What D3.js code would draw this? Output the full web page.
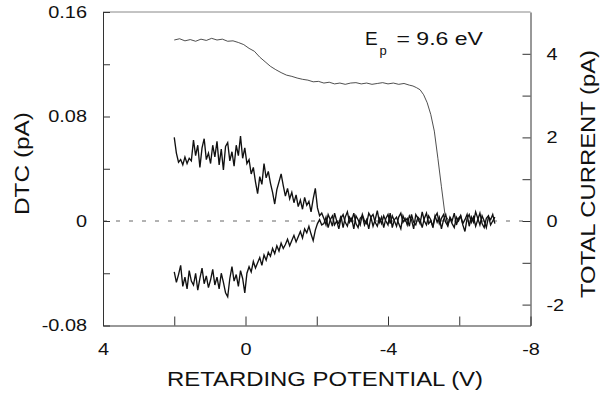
<!DOCTYPE html>
<html>
<head>
<meta charset="utf-8">
<script src="https://cdn.jsdelivr.net/npm/d3@7"></script>
<style>
  body { margin: 0; background: #fff; }
  text { font-family: "Liberation Sans", Arial, sans-serif; fill: #111; }
  .axis path, .axis line { stroke: #333; stroke-width: 1; }
</style>
</head>
<body>
<div id="chart"></div>
<script>
// retarding potential grid (V) of the two DTC traces
var dtcV = [
  2.00, 1.94, 1.88, 1.82, 1.76, 1.70, 1.64, 1.58, 1.52, 1.46,
  1.40, 1.34, 1.28, 1.22, 1.16, 1.10, 1.04, 0.98, 0.92, 0.86,
  0.80, 0.74, 0.68, 0.62, 0.56, 0.50, 0.44, 0.38, 0.32, 0.26,
  0.20, 0.14, 0.08, 0.02, -0.04, -0.10, -0.16, -0.22, -0.28, -0.34,
  -0.40, -0.46, -0.52, -0.58, -0.64, -0.70, -0.76, -0.82, -0.88, -0.94,
  -1.00, -1.06, -1.12, -1.18, -1.24, -1.30, -1.36, -1.42, -1.48, -1.54,
  -1.60, -1.66, -1.72, -1.78, -1.84, -1.90, -1.96, -2.02, -2.08, -2.14,
  -2.20, -2.26, -2.32, -2.38, -2.44, -2.50, -2.56, -2.62, -2.68, -2.74,
  -2.80, -2.86, -2.92, -2.98, -3.04, -3.10, -3.16, -3.22, -3.28, -3.34,
  -3.40, -3.46, -3.52, -3.58, -3.64, -3.70, -3.76, -3.82, -3.88, -3.94,
  -4.00, -4.06, -4.12, -4.18, -4.24, -4.30, -4.36, -4.42, -4.48, -4.54,
  -4.60, -4.66, -4.72, -4.78, -4.84, -4.90, -4.96, -5.02, -5.08, -5.14,
  -5.20, -5.26, -5.32, -5.38, -5.44, -5.50, -5.56, -5.62, -5.68, -5.74,
  -5.80, -5.86, -5.92, -5.98, -6.04, -6.10, -6.16, -6.22, -6.28, -6.34,
  -6.40, -6.46, -6.52, -6.58, -6.64, -6.70, -6.76, -6.82, -6.88, -6.94,
  -7.00
];

// upper DTC trace (pA)
var dtcUpper = [
  0.064, 0.052, 0.045, 0.047, 0.043, 0.049, 0.044, 0.048, 0.046, 0.062,
  0.050, 0.058, 0.041, 0.056, 0.063, 0.047, 0.052, 0.044, 0.058, 0.049,
  0.061, 0.043, 0.055, 0.039, 0.057, 0.060, 0.046, 0.053, 0.042, 0.058,
  0.050, 0.065, 0.048, 0.056, 0.044, 0.047, 0.036, 0.041, 0.030, 0.021,
  0.034, 0.028, 0.044, 0.033, 0.038, 0.029, 0.022, 0.013, 0.024, 0.030,
  0.036, 0.027, 0.019, 0.025, 0.017, 0.022, 0.014, 0.020, 0.011, 0.016,
  0.009, 0.018, 0.012, 0.015, 0.007, 0.017, 0.025, 0.010, 0.004, 0.006,
  0.002, -0.003, 0.005, 0.001, -0.004, 0.006, 0.000, -0.002, 0.004, -0.005,
  0.003, 0.007, -0.001, 0.002, -0.006, 0.004, 0.001, -0.003, 0.005, 0.000,
  -0.002, 0.006, 0.003, -0.004, 0.001, 0.008, -0.001, 0.003, -0.005, 0.002,
  0.005, -0.002, 0.004, 0.000, -0.004, 0.003, 0.006, -0.001, 0.002, -0.003,
  0.004, 0.001, -0.006, 0.005, 0.002, -0.002, 0.007, 0.000, -0.003, 0.004,
  0.001, -0.005, 0.003, 0.006, -0.002, 0.002, 0.005, -0.001, -0.004, 0.003,
  0.000, 0.006, -0.003, 0.002, 0.004, -0.002, 0.001, 0.005, -0.004, 0.003,
  -0.001, 0.007, 0.002, -0.003, 0.004, 0.000, -0.005, 0.003, 0.001, 0.005,
  -0.002
];

// lower DTC trace (pA)
var dtcLower = [
  -0.039, -0.047, -0.041, -0.034, -0.050, -0.043, -0.052, -0.038, -0.046, -0.049,
  -0.040, -0.053, -0.044, -0.036, -0.048, -0.042, -0.051, -0.045, -0.037, -0.049,
  -0.043, -0.052, -0.040, -0.047, -0.055, -0.058, -0.044, -0.035, -0.046, -0.041,
  -0.050, -0.038, -0.044, -0.055, -0.040, -0.035, -0.039, -0.031, -0.036, -0.032,
  -0.028, -0.034, -0.026, -0.030, -0.024, -0.027, -0.021, -0.025, -0.019, -0.023,
  -0.017, -0.021, -0.018, -0.014, -0.019, -0.015, -0.011, -0.016, -0.012, -0.008,
  -0.013, -0.006, -0.009, -0.004, -0.010, -0.015, -0.007, -0.002, 0.001, -0.003,
  -0.002, 0.003, -0.005, 0.001, 0.004, -0.003, 0.000, -0.006, 0.002, 0.005,
  -0.001, -0.004, 0.003, 0.000, 0.006, -0.002, -0.005, 0.002, 0.004, -0.003,
  0.001, -0.006, 0.003, 0.005, -0.001, -0.004, 0.002, -0.002, 0.004, 0.000,
  -0.003, 0.006, -0.005, 0.001, 0.003, -0.002, -0.006, 0.004, 0.000, 0.002,
  -0.004, 0.005, -0.001, -0.003, 0.003, 0.001, -0.005, 0.002, 0.006, -0.002,
  0.000, -0.004, 0.004, -0.001, 0.003, -0.006, 0.001, 0.005, -0.003, 0.002,
  -0.002, -0.005, 0.003, 0.000, 0.004, -0.003, -0.008, 0.002, 0.005, -0.001,
  0.003, -0.004, 0.001, 0.006, -0.002, -0.005, 0.002, 0.004, -0.003, 0.000,
  0.003
];

// total current trace (right axis)
var totalV = [
  2.00, 1.85, 1.70, 1.55, 1.40, 1.25, 1.10, 0.95, 0.80, 0.65,
  0.50, 0.35, 0.20, 0.05, -0.10, -0.25, -0.40, -0.55, -0.70, -0.85,
  -1.00, -1.15, -1.30, -1.45, -1.60, -1.75, -1.90, -2.05, -2.20, -2.35,
  -2.50, -2.65, -2.80, -2.95, -3.10, -3.25, -3.40, -3.55, -3.70, -3.85,
  -4.00, -4.15, -4.30, -4.45, -4.60, -4.70, -4.80, -4.90, -5.00, -5.10,
  -5.20, -5.30, -5.40, -5.50, -5.60, -5.70
];
var totalI = [
  4.33, 4.36, 4.31, 4.34, 4.30, 4.35, 4.32, 4.37, 4.33, 4.35,
  4.30, 4.31, 4.27, 4.22, 4.13, 4.06, 3.92, 3.81, 3.70, 3.62,
  3.55, 3.49, 3.46, 3.42, 3.39, 3.37, 3.33, 3.34, 3.30, 3.32,
  3.28, 3.30, 3.27, 3.30, 3.31, 3.28, 3.30, 3.27, 3.29, 3.31,
  3.28, 3.30, 3.27, 3.29, 3.25, 3.23, 3.19, 3.14, 3.02, 2.83,
  2.55, 2.15, 1.50, 0.82, 0.15, 0.02
];

// ticks
var xTicks = [4, 2, 0, -2, -4, -6, -8];
var xLabels = [4, 0, -4, -8];
var yTicks = [-0.08, -0.04, 0, 0.04, 0.08, 0.12, 0.16];
var yLabels = [-0.08, 0, 0.08, 0.16];
var rTicks = [-2, -1, 0, 1, 2, 3, 4];
var rLabels = [-2, 0, 2, 4];

const W = 600, H = 398;
const margin = {top: 12, right: 69.5, bottom: 72.5, left: 103};
const stretch = 1.17;

var x = d3.scaleLinear().domain([4, -8]).range([margin.left, W - margin.right]);
var yL = d3.scaleLinear().domain([-0.08, 0.16]).range([H - margin.bottom, margin.top]);
var yR = d3.scaleLinear().domain([-2.5, 5]).range([H - margin.bottom, margin.top]);

var svg = d3.select("#chart").append("svg")
    .attr("width", W)
    .attr("height", H);

// widen text a bit, the original lettering is broader than Liberation Sans
function widen(sel) {
  sel.each(function() {
    var w = this.getComputedTextLength();
    d3.select(this).attr("textLength", w * stretch).attr("lengthAdjust", "spacingAndGlyphs");
  });
}

// zero line
svg.append("line")
    .attr("x1", x(4)).attr("x2", x(-8))
    .attr("y1", yL(0)).attr("y2", yL(0))
    .attr("stroke", "#666")
    .attr("stroke-width", 1)
    .attr("stroke-dasharray", "4,9");

// top frame line
svg.append("line")
    .attr("x1", x(4)).attr("x2", x(-8))
    .attr("y1", margin.top).attr("y2", margin.top)
    .attr("stroke", "#888")
    .attr("stroke-width", 1);

// left axis
var gL = svg.append("g")
    .attr("class", "axis")
    .attr("transform", "translate(" + margin.left + ",0)")
    .call(d3.axisLeft(yL).tickValues(yTicks).tickSizeInner(-7).tickSizeOuter(0).tickPadding(16)
      .tickFormat(function(d) { return yLabels.includes(d) ? (d === 0 ? "0" : d.toFixed(2)) : ""; }));

// right axis
var gR = svg.append("g")
    .attr("class", "axis")
    .attr("transform", "translate(" + (W - margin.right) + ",0)")
    .call(d3.axisRight(yR).tickValues(rTicks).tickSizeInner(-8).tickSizeOuter(0).tickPadding(16)
      .tickFormat(function(d) { return rLabels.includes(d) ? String(d) : ""; }));

// bottom axis
var gB = svg.append("g")
    .attr("class", "axis")
    .attr("transform", "translate(0," + (H - margin.bottom) + ")")
    .call(d3.axisBottom(x).tickValues(xTicks).tickSizeInner(-9).tickSizeOuter(0).tickPadding(17)
      .tickFormat(function(d) { return xLabels.includes(d) ? String(d) : ""; }));

svg.selectAll(".axis text")
    .style("font-family", "'Liberation Sans', Arial, sans-serif")
    .style("font-size", "17px")
    .attr("fill", "#111");
widen(svg.selectAll(".axis text").filter(function() { return this.textContent !== ""; }));

// traces
var dtcLine = d3.line()
    .x(function(d) { return x(d[0]); })
    .y(function(d) { return yL(d[1]); });

svg.append("path")
    .datum(d3.zip(dtcV, dtcLower))
    .attr("d", dtcLine)
    .attr("fill", "none")
    .attr("stroke", "#111")
    .attr("stroke-width", 1.35);

svg.append("path")
    .datum(d3.zip(dtcV, dtcUpper))
    .attr("d", dtcLine)
    .attr("fill", "none")
    .attr("stroke", "#111")
    .attr("stroke-width", 1.35);

var totalLine = d3.line()
    .x(function(d) { return x(d[0]); })
    .y(function(d) { return yR(d[1]); });

svg.append("path")
    .datum(d3.zip(totalV, totalI))
    .attr("d", totalLine)
    .attr("fill", "none")
    .attr("stroke", "#222")
    .attr("stroke-width", 0.8);

// titles
svg.append("text")
    .attr("x", 325).attr("y", 386)
    .attr("text-anchor", "middle")
    .style("font-size", "21px")
    .attr("textLength", 316).attr("lengthAdjust", "spacingAndGlyphs")
    .text("RETARDING POTENTIAL (V)");

svg.append("text")
    .attr("transform", "translate(28.5,163.5) rotate(-90)")
    .attr("text-anchor", "middle")
    .style("font-size", "21px")
    .attr("textLength", 103).attr("lengthAdjust", "spacingAndGlyphs")
    .text("DTC (pA)");

svg.append("text")
    .attr("transform", "translate(595,174) rotate(-90)")
    .attr("text-anchor", "middle")
    .style("font-size", "21px")
    .attr("textLength", 248).attr("lengthAdjust", "spacingAndGlyphs")
    .text("TOTAL CURRENT (pA)");

// beam energy label
svg.append("text")
    .attr("x", 365).attr("y", 45)
    .style("font-size", "19px")
    .text("E");
svg.append("text")
    .attr("x", 379.5).attr("y", 55)
    .style("font-size", "13px")
    .text("p");
svg.append("text")
    .attr("x", 396.5).attr("y", 45)
    .style("font-size", "19px")
    .attr("textLength", 86.5).attr("lengthAdjust", "spacingAndGlyphs")
    .text("= 9.6 eV");
</script>
</body>
</html>
